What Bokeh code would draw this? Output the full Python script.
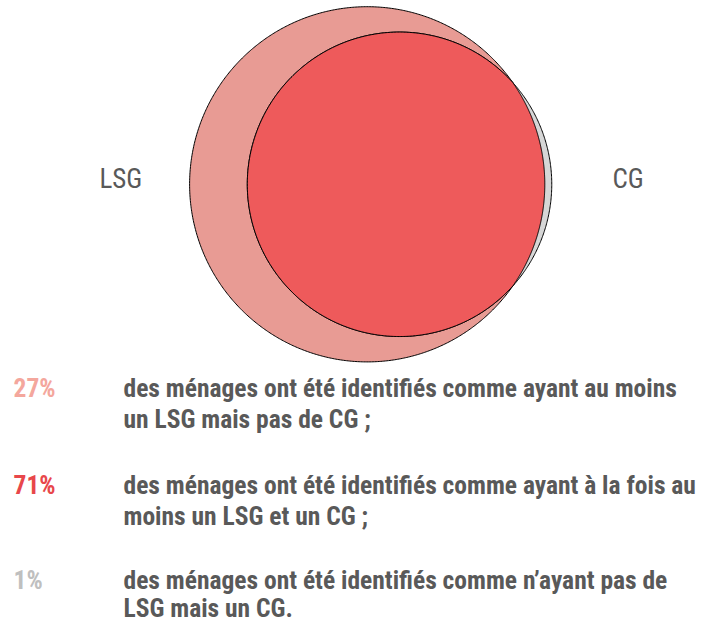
import numpy as np
from bokeh.plotting import figure
from bokeh.models import Label, Range1d
from bokeh.embed import file_html
from bokeh.resources import INLINE

# ---------------- data ----------------
set_names = ["LSG", "CG"]
pct_lsg_only = 27
pct_both = 71
pct_cg_only = 1
pct_labels = ["27%", "71%", "1%"]
pct_colors = ["#F4A79D", "#E8474B", "#BFBFBF"]
descriptions = [
    ["des ménages ont été identifiés comme ayant au moins", "un LSG mais pas de CG ;"],
    ["des ménages ont été identifiés comme ayant à la fois au", "moins un LSG et un CG ;"],
    ["des ménages ont été identifiés comme n’ayant pas de", "LSG mais un CG."],
]

# ---------------- geometry from the data (area-proportional Venn) ----------------
A1 = pct_lsg_only + pct_both
A2 = pct_both + pct_cg_only
r1 = np.sqrt(A1 / np.pi)
r2 = np.sqrt(A2 / np.pi)


def lens_area(d):
    a = r1**2 * np.arccos(np.clip((d**2 + r1**2 - r2**2) / (2 * d * r1), -1, 1))
    b = r2**2 * np.arccos(np.clip((d**2 + r2**2 - r1**2) / (2 * d * r2), -1, 1))
    c = 0.5 * np.sqrt(max((-d + r1 + r2) * (d + r1 - r2) * (d - r1 + r2) * (d + r1 + r2), 0))
    return a + b - c


lo, hi = r1 - r2 + 1e-9, r1 + r2
for _ in range(200):
    mid = 0.5 * (lo + hi)
    if lens_area(mid) > pct_both:
        lo = mid
    else:
        hi = mid
d = 0.5 * (lo + hi)

t = np.linspace(0, 2 * np.pi, 720)
lsg_x, lsg_y = r1 * np.cos(t), r1 * np.sin(t)
cg_x, cg_y = d + r2 * np.cos(t), r2 * np.sin(t)

xi = (d**2 + r1**2 - r2**2) / (2 * d)
yi = np.sqrt(r1**2 - xi**2)
a2 = np.arctan2(yi, xi - d)
a1 = np.arctan2(yi, xi)
arc2 = np.linspace(a2, 2 * np.pi - a2, 500)
arc1 = np.linspace(-a1, a1, 300)
both_x = np.concatenate([d + r2 * np.cos(arc2), r1 * np.cos(arc1)])
both_y = np.concatenate([r2 * np.sin(arc2), r1 * np.sin(arc1)])

# ---------------- layout ----------------
W, H = 719, 623
px_r1 = 177.6
s = px_r1 / r1
cx_px, cy_px = 366.7, 183.8

p = figure(width=W, height=H, output_backend="svg", toolbar_location=None,
           x_range=Range1d(-cx_px / s, (W - cx_px) / s),
           y_range=Range1d(-(H - cy_px) / s, cy_px / s),
           min_border=0)
p.axis.visible = False
p.grid.visible = False
p.outline_line_color = None
p.background_fill_color = "white"
p.border_fill_color = "white"

p.patch(lsg_x, lsg_y, fill_color="#E89B94", line_color="black", line_width=1)
p.patch(cg_x, cg_y, fill_color="#D6D6D6", line_color="black", line_width=1)
p.patch(both_x, both_y, fill_color="#EE5A5B", line_color="black", line_width=1)

FONT = "Roboto Condensed"
TXT = "#595959"
BASE_SHIFT = 10  # label baseline correction observed in rendering


def sy(page_y):
    return H - (page_y - BASE_SHIFT)


p.add_layout(Label(x=99, y=sy(188), x_units="screen", y_units="screen",
                   text=set_names[0], text_font=FONT, text_font_size="27px",
                   text_color=TXT, text_baseline="alphabetic"))
p.add_layout(Label(x=612, y=sy(188), x_units="screen", y_units="screen",
                   text=set_names[1], text_font=FONT, text_font_size="27px",
                   text_color=TXT, text_baseline="alphabetic"))

baselines = [(397, 428), (494, 525), (589, 617)]
for (b1, b2), lab, col, lines in zip(baselines, pct_labels, pct_colors, descriptions):
    p.add_layout(Label(x=13, y=sy(b1), x_units="screen", y_units="screen",
                       text=lab, text_font=FONT, text_font_size="25.5px",
                       text_font_style="bold", text_color=col, text_baseline="alphabetic"))
    for by, line in zip((b1, b2), lines):
        p.add_layout(Label(x=123, y=sy(by), x_units="screen", y_units="screen",
                           text=line, text_font=FONT, text_font_size="25.5px",
                           text_font_style="bold", text_color=TXT,
                           text_baseline="alphabetic"))

open("out.html", "w").write(file_html(p, INLINE))
